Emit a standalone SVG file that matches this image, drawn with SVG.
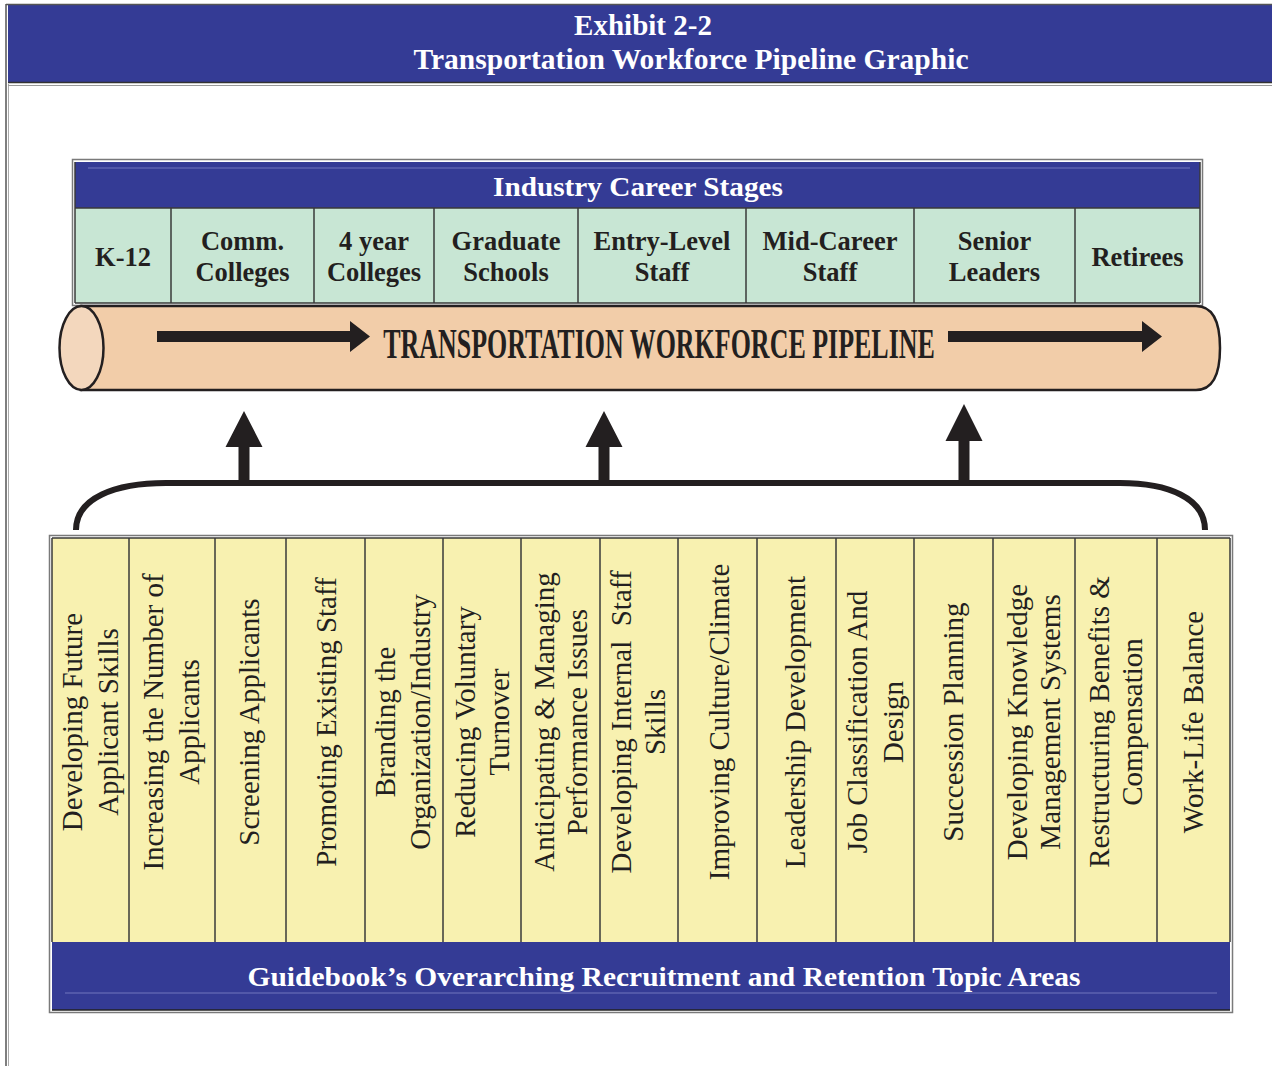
<svg xmlns="http://www.w3.org/2000/svg" width="1272" height="1066" viewBox="0 0 1272 1066">
  <style>
    .band { fill: #343b95; }
    .hdr { font-family: "Liberation Serif", "Times New Roman", serif; font-weight: bold; fill: #ffffff; text-anchor: middle; }
    .stage { fill: #c8e6d4; }
    .stage-t { font-family: "Liberation Serif", "Times New Roman", serif; font-weight: bold; font-size: 26.5px; fill: #231f20; text-anchor: middle; }
    .div { stroke: #3a3a3a; stroke-width: 1.5; }
    .topic { fill: #f8f1b0; }
    .topic-t { font-family: "Liberation Serif", "Times New Roman", serif; font-size: 29px; fill: #231f20; text-anchor: middle; }
    .ink { fill: #231f20; }
    .frame { fill: none; stroke: #7a7a7a; stroke-width: 1.5; }
  </style>

  <!-- page frame and title band -->
  <g id="title">
    <line x1="6" y1="4" x2="6" y2="1066" stroke="#555" stroke-width="1.5"/>
    <line x1="8.5" y1="84" x2="8.5" y2="1066" stroke="#aaa" stroke-width="1"/>
    <rect x="8" y="5" width="1264" height="77" class="band"/>
    <line x1="6" y1="4.5" x2="1272" y2="4.5" stroke="#555" stroke-width="1.5"/>
    <line x1="8" y1="82.5" x2="1272" y2="82.5" stroke="#333" stroke-width="1.5"/>
    <line x1="8" y1="85.5" x2="1272" y2="85.5" stroke="#999" stroke-width="1"/>
    <text class="hdr" x="643" y="35" font-size="29">Exhibit 2-2</text>
    <text class="hdr" x="691" y="69" font-size="29" textLength="555" lengthAdjust="spacingAndGlyphs">Transportation Workforce Pipeline Graphic</text>
  </g>

  <!-- career stages table -->
  <g id="career-stages">
    <rect x="72.5" y="159.5" width="1130" height="146" class="frame"/>
    <rect x="75" y="162" width="1125" height="46" class="band"/>
    <line x1="88" y1="168" x2="1190" y2="168" stroke="#7077bd" stroke-width="1"/>
    <text class="hdr" x="638" y="196" font-size="28" textLength="290" lengthAdjust="spacingAndGlyphs">Industry Career Stages</text>
    <rect x="75" y="208" width="1125" height="95" class="stage"/>
    <line x1="75" y1="208" x2="1200" y2="208" class="div"/>
    <line x1="75" y1="303" x2="1200" y2="303" class="div"/>
    <line x1="75" y1="162" x2="75" y2="303" class="div"/>
    <line x1="1200" y1="162" x2="1200" y2="303" class="div"/>
  </g>
  <g id="stage-k12">
    <text class="stage-t" x="123" y="266">K-12</text>
  </g>
  <g id="stage-comm">
    <line x1="171" y1="208" x2="171" y2="303" class="div"/>
    <text class="stage-t" x="242.5" y="250">Comm.</text>
    <text class="stage-t" x="242.5" y="281">Colleges</text>
  </g>
  <g id="stage-4year">
    <line x1="314" y1="208" x2="314" y2="303" class="div"/>
    <text class="stage-t" x="374" y="250">4 year</text>
    <text class="stage-t" x="374" y="281">Colleges</text>
  </g>
  <g id="stage-grad">
    <line x1="434" y1="208" x2="434" y2="303" class="div"/>
    <text class="stage-t" x="506" y="250">Graduate</text>
    <text class="stage-t" x="506" y="281">Schools</text>
  </g>
  <g id="stage-entry">
    <line x1="578" y1="208" x2="578" y2="303" class="div"/>
    <text class="stage-t" x="662" y="250">Entry-Level</text>
    <text class="stage-t" x="662" y="281">Staff</text>
  </g>
  <g id="stage-mid">
    <line x1="746" y1="208" x2="746" y2="303" class="div"/>
    <text class="stage-t" x="830" y="250">Mid-Career</text>
    <text class="stage-t" x="830" y="281">Staff</text>
  </g>
  <g id="stage-senior">
    <line x1="914" y1="208" x2="914" y2="303" class="div"/>
    <text class="stage-t" x="994.5" y="250">Senior</text>
    <text class="stage-t" x="994.5" y="281">Leaders</text>
  </g>
  <g id="stage-retirees">
    <line x1="1075" y1="208" x2="1075" y2="303" class="div"/>
    <text class="stage-t" x="1137.5" y="266">Retirees</text>
  </g>

  <!-- the pipeline cylinder -->
  <g id="pipeline">
    <path d="M81,306 H1196 C1212,306 1220,320 1220,348 C1220,376 1212,390 1196,390 H81 Z" fill="#f2cda9" stroke="#231f20" stroke-width="2.5"/>
    <ellipse cx="81.5" cy="348" rx="22" ry="42" fill="#f3d7bd" stroke="#231f20" stroke-width="2.5"/>
    <polygon class="ink" points="157,331 350,331 350,321 370,336.5 350,352 350,342 157,342"/>
    <polygon class="ink" points="948,331 1142,331 1142,321 1162,336.5 1142,352 1142,342 948,342"/>
    <!-- condensed caption: horizontally squeezed bold serif -->
    <text transform="translate(659,358) scale(0.585,1)" x="0" y="0" font-family="'Liberation Serif', 'Times New Roman', serif" font-weight="bold" font-size="43" fill="#231f20" text-anchor="middle" textLength="943" lengthAdjust="spacingAndGlyphs">TRANSPORTATION WORKFORCE PIPELINE</text>
  </g>

  <!-- bracket gathering the topic areas and the arrows feeding the pipeline -->
  <g id="connectors">
    <path d="M76,530 C76,498 115,483 166,483 H1120 C1168,483 1205,498 1205,530" fill="none" stroke="#231f20" stroke-width="6"/>
    <polygon class="ink" points="244,411 262.5,447 249.5,447 249.5,484 238.5,484 238.5,447 225.5,447"/>
    <polygon class="ink" points="604,411 622.5,447 609.5,447 609.5,484 598.5,484 598.5,447 585.5,447"/>
    <polygon class="ink" points="964,404 982.5,441 969.5,441 969.5,484 958.5,484 958.5,441 945.5,441"/>
  </g>

  <!-- topic areas table -->
  <g id="topic-areas">
    <rect x="49.5" y="535.5" width="1183" height="477" class="frame"/>
    <rect x="52" y="538" width="1178" height="404" class="topic"/>
    <rect x="52" y="942" width="1178" height="68" class="band"/>
    <line x1="65" y1="993" x2="1217" y2="993" stroke="#7077bd" stroke-width="1"/>
    <line x1="52" y1="1010" x2="1230" y2="1010" stroke="#222" stroke-width="1.5"/>
    <line x1="52" y1="538" x2="1230" y2="538" class="div"/>
    <line x1="52" y1="538" x2="52" y2="942" class="div"/>
    <line x1="1230" y1="538" x2="1230" y2="942" class="div"/>
    <text class="hdr" x="664" y="986" font-size="28" textLength="833" lengthAdjust="spacingAndGlyphs">Guidebook’s Overarching Recruitment and Retention Topic Areas</text>
  </g>

  <g id="topic-01">
    <text class="topic-t" transform="translate(82,722) rotate(-90)">Developing Future</text>
    <text class="topic-t" transform="translate(118,722) rotate(-90)">Applicant Skills</text>
  </g>
  <g id="topic-02">
    <line x1="129" y1="538" x2="129" y2="942" class="div"/>
    <text class="topic-t" transform="translate(163,722) rotate(-90)">Increasing the Number of</text>
    <text class="topic-t" transform="translate(199,722) rotate(-90)">Applicants</text>
  </g>
  <g id="topic-03">
    <line x1="215" y1="538" x2="215" y2="942" class="div"/>
    <text class="topic-t" transform="translate(259,722) rotate(-90)">Screening Applicants</text>
  </g>
  <g id="topic-04">
    <line x1="286" y1="538" x2="286" y2="942" class="div"/>
    <text class="topic-t" transform="translate(336,722) rotate(-90)">Promoting Existing Staff</text>
  </g>
  <g id="topic-05">
    <line x1="365" y1="538" x2="365" y2="942" class="div"/>
    <text class="topic-t" transform="translate(395,722) rotate(-90)">Branding the</text>
    <text class="topic-t" transform="translate(430,722) rotate(-90)">Organization/Industry</text>
  </g>
  <g id="topic-06">
    <line x1="443" y1="538" x2="443" y2="942" class="div"/>
    <text class="topic-t" transform="translate(475,722) rotate(-90)">Reducing Voluntary</text>
    <text class="topic-t" transform="translate(509,722) rotate(-90)">Turnover</text>
  </g>
  <g id="topic-07">
    <line x1="521" y1="538" x2="521" y2="942" class="div"/>
    <text class="topic-t" transform="translate(554,722) rotate(-90)">Anticipating &amp; Managing</text>
    <text class="topic-t" transform="translate(587,722) rotate(-90)">Performance Issues</text>
  </g>
  <g id="topic-08">
    <line x1="600" y1="538" x2="600" y2="942" class="div"/>
    <text class="topic-t" transform="translate(631,722) rotate(-90)" xml:space="preserve">Developing Internal  Staff</text>
    <text class="topic-t" transform="translate(665,722) rotate(-90)">Skills</text>
  </g>
  <g id="topic-09">
    <line x1="678" y1="538" x2="678" y2="942" class="div"/>
    <text class="topic-t" transform="translate(729,722) rotate(-90)">Improving Culture/Climate</text>
  </g>
  <g id="topic-10">
    <line x1="757" y1="538" x2="757" y2="942" class="div"/>
    <text class="topic-t" transform="translate(805,722) rotate(-90)">Leadership Development</text>
  </g>
  <g id="topic-11">
    <line x1="836" y1="538" x2="836" y2="942" class="div"/>
    <text class="topic-t" transform="translate(867,722) rotate(-90)">Job Classification And</text>
    <text class="topic-t" transform="translate(903,722) rotate(-90)">Design</text>
  </g>
  <g id="topic-12">
    <line x1="914" y1="538" x2="914" y2="942" class="div"/>
    <text class="topic-t" transform="translate(963,722) rotate(-90)">Succession Planning</text>
  </g>
  <g id="topic-13">
    <line x1="993" y1="538" x2="993" y2="942" class="div"/>
    <text class="topic-t" transform="translate(1027,722) rotate(-90)">Developing Knowledge</text>
    <text class="topic-t" transform="translate(1060,722) rotate(-90)">Management Systems</text>
  </g>
  <g id="topic-14">
    <line x1="1075" y1="538" x2="1075" y2="942" class="div"/>
    <text class="topic-t" transform="translate(1109,722) rotate(-90)">Restructuring Benefits &amp;</text>
    <text class="topic-t" transform="translate(1142,722) rotate(-90)">Compensation</text>
  </g>
  <g id="topic-15">
    <line x1="1157" y1="538" x2="1157" y2="942" class="div"/>
    <text class="topic-t" transform="translate(1203,722) rotate(-90)">Work-Life Balance</text>
  </g>
</svg>
